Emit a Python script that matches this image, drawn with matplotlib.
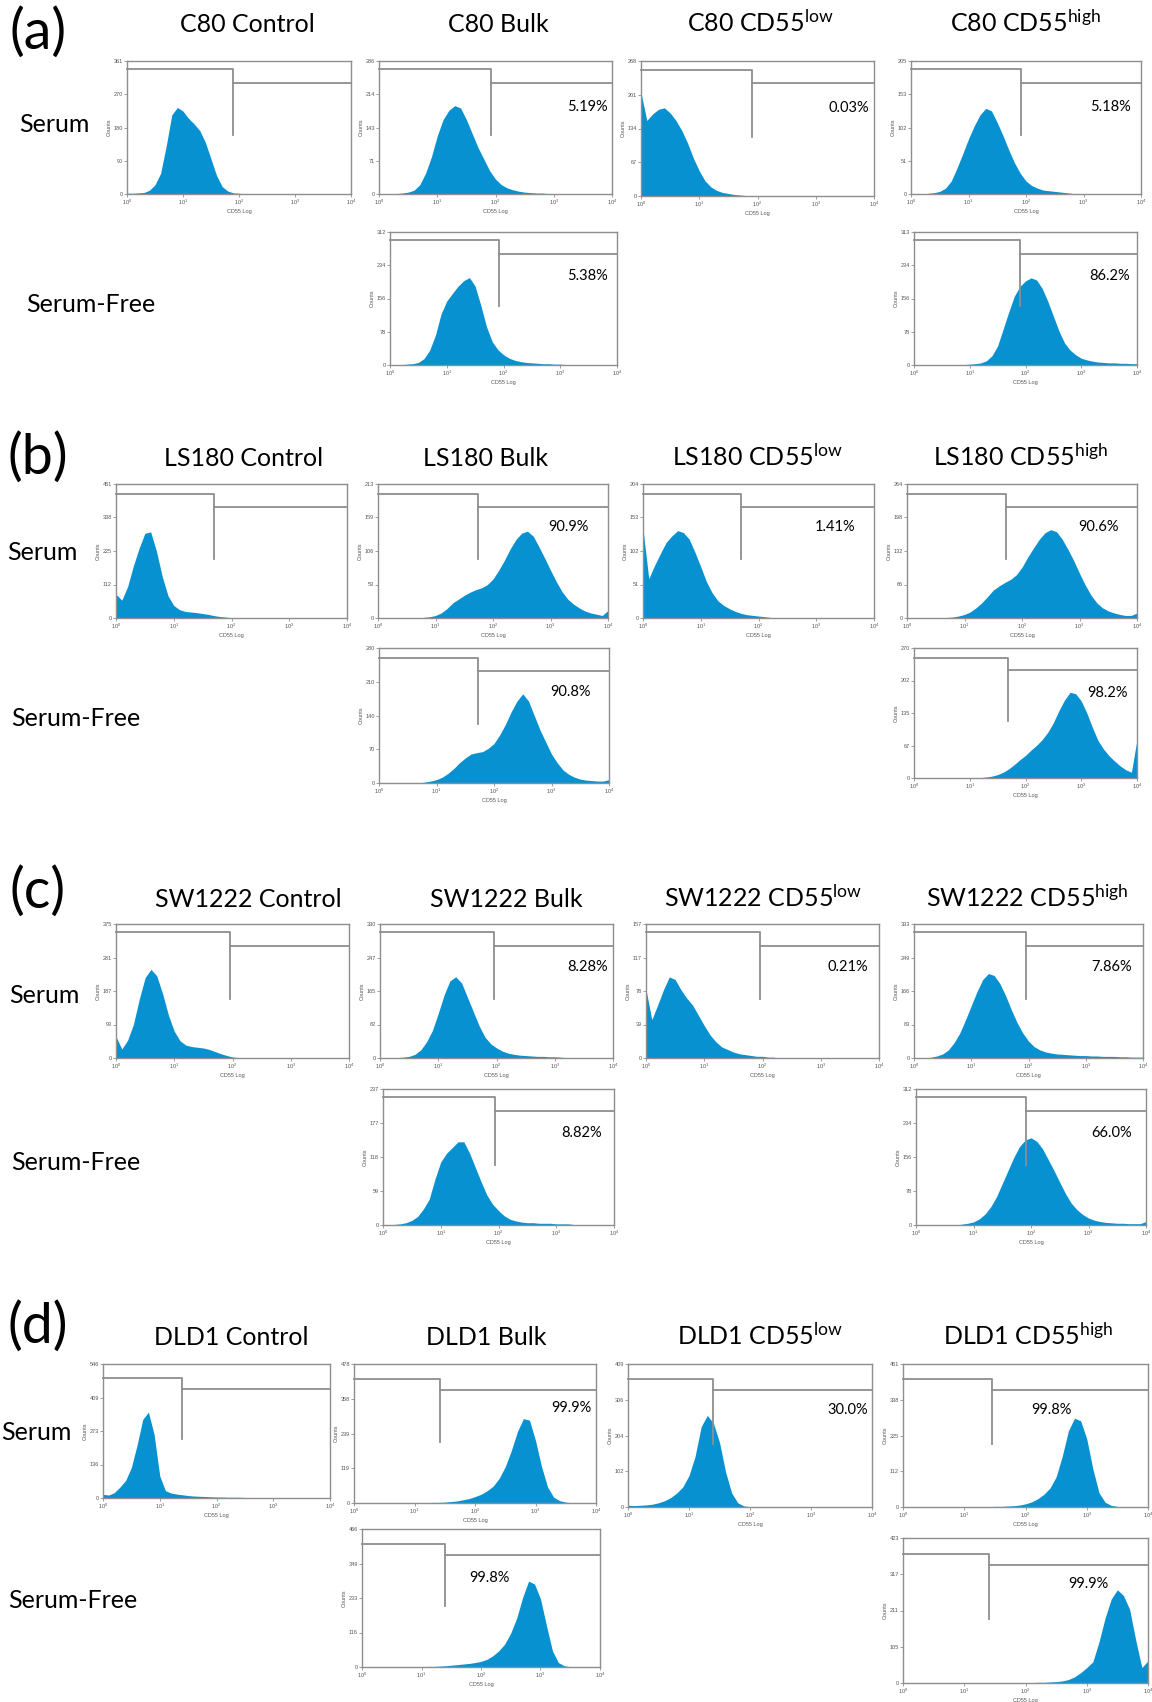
import numpy as np
import matplotlib
matplotlib.use("Agg")
import matplotlib.pyplot as plt
from matplotlib.ticker import NullLocator

W, H = 1152, 1702

plt.rcParams['font.family'] = ['Lato', 'DejaVu Sans']
plt.rcParams['mathtext.default'] = 'regular'

BLUE = '#0791d1'
FRAME = '#8e8e8e'
SMALL_FONT = 'Liberation Sans'

# every histogram is stored as counts per channel, one channel = 0.1 decade,
# first channel at CD55 = 10^0
LOG_STEP = 0.1

# ---- C80 ----
C80_CONTROL = [2, 2, 3, 4, 10, 25, 56, 130, 215, 235, 225, 205, 190, 172, 140, 95, 50, 20, 8, 3, 2, 1, 1]
C80_BULK = [0, 0, 1, 1, 2, 4, 8, 20, 45, 80, 125, 160, 180, 190, 185, 160, 130, 100, 75, 50, 32, 20, 13, 9,
            6, 4, 3, 2, 2, 1, 1]
C80_LOW = [205, 150, 163, 172, 175, 165, 150, 130, 105, 75, 50, 30, 18, 11, 7, 5, 3, 2, 1, 1]
C80_HIGH = [0, 0, 0, 1, 2, 4, 9, 20, 40, 62, 85, 105, 122, 132, 128, 110, 90, 68, 48, 32, 20, 13, 9, 6, 5,
            4, 3, 2, 1]
C80_BULK_SF = [0, 0, 1, 2, 3, 6, 15, 35, 70, 120, 150, 168, 185, 198, 205, 185, 140, 90, 55, 36, 24, 16, 11,
               8, 6, 5, 4, 3, 3, 2, 2, 1]
C80_HIGH_SF = [0, 0, 0, 0, 0, 0, 0, 0, 0, 1, 2, 3, 5, 10, 22, 45, 85, 125, 162, 185, 198, 205, 200, 180,
               150, 115, 80, 52, 35, 24, 16, 12, 9, 7, 6, 5, 5, 4, 4, 3, 3]
C80_YMAX = [361, 286, 268, 205, 312, 313]
C80_GATE = [77, 83, 80, 81, 83, 81]
C80_PCT = [None, '5.19%', '0.03%', '5.18%', '5.38%', '86.2%']

# ---- LS180 ----
LS180_CONTROL = [80, 60, 105, 175, 235, 285, 290, 225, 140, 75, 42, 28, 22, 20, 18, 15, 12, 8, 5, 3, 1]
LS180_BULK = [0, 0, 0, 0, 0, 0, 0, 0, 1, 2, 4, 8, 15, 24, 30, 36, 41, 45, 48, 53, 62, 76, 92, 110, 125,
              135, 138, 130, 113, 95, 76, 58, 42, 30, 22, 16, 11, 8, 6, 4, 12]
LS180_LOW = [135, 60, 80, 98, 115, 125, 133, 130, 120, 100, 78, 55, 38, 26, 19, 14, 10, 7, 5, 4, 3, 2, 1]
LS180_HIGH = [0, 0, 0, 0, 0, 0, 0, 1, 2, 4, 7, 12, 20, 30, 42, 55, 63, 70, 76, 85, 100, 120, 138, 155,
              168, 174, 170, 155, 135, 113, 88, 65, 45, 30, 20, 14, 10, 7, 5, 5, 10]
LS180_BULK_SF = [0, 0, 0, 0, 0, 0, 0, 0, 2, 4, 7, 12, 20, 30, 42, 52, 60, 63, 65, 72, 82, 100, 122, 148,
                 170, 185, 170, 140, 110, 85, 60, 42, 27, 18, 12, 8, 6, 5, 4, 4, 7]
LS180_HIGH_SF = [0, 0, 0, 0, 0, 0, 0, 0, 0, 0, 0, 0, 1, 2, 4, 7, 12, 19, 28, 38, 47, 58, 68, 80, 95, 115,
                 140, 162, 178, 175, 160, 135, 105, 78, 60, 46, 35, 25, 17, 12, 80]
LS180_YMAX = [451, 213, 204, 264, 280, 270]
LS180_GATE = [50, 55, 50, 52, 52, 48]
LS180_PCT = [None, '90.9%', '1.41%', '90.6%', '90.8%', '98.2%']

# ---- SW1222 ----
SW1222_CONTROL = [60, 25, 50, 95, 165, 225, 248, 230, 180, 120, 75, 48, 36, 32, 30, 28, 24, 18, 12, 7, 3, 1]
SW1222_BULK = [0, 0, 0, 1, 2, 4, 9, 20, 40, 68, 110, 155, 190, 200, 185, 150, 115, 80, 52, 35, 25, 17, 12,
               9, 7, 6, 5, 4, 4, 3, 3, 2, 1]
SW1222_LOW = [80, 45, 62, 80, 95, 92, 80, 70, 62, 50, 38, 27, 19, 13, 10, 7, 5, 4, 3, 2, 2, 1, 1]
SW1222_HIGH = [0, 0, 0, 2, 5, 10, 20, 38, 62, 95, 130, 165, 195, 210, 205, 185, 155, 120, 88, 62, 42, 28,
               20, 15, 12, 10, 9, 8, 7, 6, 6, 5, 5, 4, 4, 4, 3, 3, 2, 2, 2]
SW1222_BULK_SF = [0, 0, 1, 2, 4, 8, 15, 28, 45, 80, 110, 125, 135, 145, 145, 125, 100, 75, 52, 36, 25, 16,
                  10, 7, 5, 4, 4, 3, 3, 3, 2, 2, 2, 1]
SW1222_HIGH_SF = [0, 0, 0, 0, 0, 0, 0, 0, 2, 4, 7, 14, 25, 42, 65, 95, 125, 155, 180, 195, 200, 192, 175,
                  150, 125, 98, 72, 50, 35, 24, 16, 11, 8, 6, 5, 4, 4, 3, 3, 3, 8]
SW1222_YMAX = [375, 330, 157, 333, 237, 312]
SW1222_GATE = [91, 91, 91, 91, 86, 83]
SW1222_PCT = [None, '8.28%', '0.21%', '7.86%', '8.82%', '66.0%']

# ---- DLD1 ----
DLD1_CONTROL = [15, 12, 22, 45, 72, 125, 215, 320, 350, 260, 90, 30, 20, 16, 13, 10, 8, 7, 6, 5, 4, 4, 3, 3,
                3, 2, 1]
DLD1_BULK = [0, 0, 0, 0, 0, 0, 0, 0, 0, 0, 1, 1, 1, 2, 2, 3, 5, 7, 11, 15, 22, 30, 42, 58, 85, 125, 180,
             245, 290, 285, 215, 125, 55, 20, 8, 3, 1]
DLD1_LOW = [5, 4, 5, 6, 8, 12, 18, 27, 40, 58, 90, 145, 230, 262, 240, 185, 100, 40, 12, 3, 1]
DLD1_HIGH = [0, 0, 0, 0, 0, 0, 0, 0, 0, 0, 0, 0, 0, 1, 1, 2, 2, 3, 4, 6, 10, 16, 26, 40, 60, 95, 160, 240,
             280, 272, 215, 120, 45, 15, 5, 2]
DLD1_BULK_SF = [0, 0, 0, 0, 0, 0, 0, 0, 0, 0, 1, 2, 2, 3, 4, 6, 8, 10, 12, 15, 19, 26, 38, 55, 78, 115, 165,
                235, 290, 280, 230, 140, 55, 15, 4, 1]
DLD1_HIGH_SF = [0, 0, 0, 0, 0, 0, 0, 0, 0, 0, 0, 0, 0, 0, 0, 0, 0, 0, 1, 1, 1, 1, 2, 2, 3, 4, 6, 10, 18,
                30, 45, 62, 120, 190, 245, 272, 255, 215, 125, 45, 65]
DLD1_YMAX = [546, 478, 409, 451, 466, 423]
DLD1_GATE = [25, 26, 25, 28, 25, 25]
DLD1_PCT = [None, '99.9%', '30.0%', '99.8%', '99.8%', '99.9%']

LINES = ['C80', 'LS180', 'SW1222', 'DLD1']
TAGS = ['(a)', '(b)', '(c)', '(d)']
HISTS = [
    [C80_CONTROL, C80_BULK, C80_LOW, C80_HIGH, C80_BULK_SF, C80_HIGH_SF],
    [LS180_CONTROL, LS180_BULK, LS180_LOW, LS180_HIGH, LS180_BULK_SF, LS180_HIGH_SF],
    [SW1222_CONTROL, SW1222_BULK, SW1222_LOW, SW1222_HIGH, SW1222_BULK_SF, SW1222_HIGH_SF],
    [DLD1_CONTROL, DLD1_BULK, DLD1_LOW, DLD1_HIGH, DLD1_BULK_SF, DLD1_HIGH_SF],
]
YMAXS = [C80_YMAX, LS180_YMAX, SW1222_YMAX, DLD1_YMAX]
GATES = [C80_GATE, LS180_GATE, SW1222_GATE, DLD1_GATE]
PCTS = [C80_PCT, LS180_PCT, SW1222_PCT, DLD1_PCT]

# ---- layout (pixels): left, right, top, bottom of each plot frame ----
BOXES = [
    [(127, 351, 61, 194), (379, 612, 61, 194), (641, 874, 61, 196), (911, 1141, 61, 194),
     (390, 617, 232, 365), (914, 1137, 232, 365)],
    [(116, 347, 484, 618), (378, 608, 484, 618), (643, 874, 484, 618), (907, 1137, 484, 618),
     (379, 609, 648, 783), (914, 1137, 648, 778)],
    [(116, 349, 924, 1058), (380, 613, 924, 1058), (646, 879, 924, 1058), (914, 1143, 924, 1058),
     (383, 614, 1089, 1225), (916, 1146, 1089, 1225)],
    [(103, 330, 1364, 1498), (354, 596, 1364, 1503), (628, 872, 1364, 1507), (903, 1148, 1364, 1507),
     (362, 600, 1529, 1667), (903, 1148, 1538, 1683)],
]
TAG_Y = [33, 458, 892, 1327]
TITLE_BASE = [32, 466, 907, 1345]
TITLE_X = [[247, 498, 760, 1025], [244, 486, 757, 1020], [248, 506, 763, 1027], [231, 486, 760, 1028]]
ROW_Y = [(125, 305), (553, 718), (995, 1162), (1433, 1600)]
ROW_RIGHT = [(90, 155), (78, 140), (80, 140), (72, 137)]
MARKS = [(0.937, 0.836), (0.925, 0.83), (0.94, 0.835), (0.893, 0.815)]
PCT_X = [[None, 0.983, 0.979, 0.957, 0.96, 0.969],
         [None, 0.917, 0.918, 0.92, 0.92, 0.96],
         [None, 0.979, 0.953, 0.952, 0.948, 0.94],
         [None, 0.983, 0.984, 0.69, 0.62, 0.84]]
PCT_Y = [[None, 0.655, 0.655, 0.655, 0.667, 0.667],
         [None, 0.68, 0.68, 0.68, 0.676, 0.655],
         [None, 0.68, 0.68, 0.68, 0.68, 0.68],
         [None, 0.68, 0.676, 0.68, 0.643, 0.68]]


def fy(y):
    return 1 - y / H


def histogram(fig, box, counts, ymax, gate, marks):
    left, right, top, bottom = box
    ax = fig.add_axes([left / W, fy(bottom), (right - left) / W, (bottom - top) / H])
    chan = 10 ** (np.arange(len(counts)) * LOG_STEP)
    ax.fill_between(chan, counts, color=BLUE, lw=0)
    ax.set_xscale('log')
    ax.set_xlim(1, 1e4)
    ax.set_ylim(0, ymax)

    ax.set_xticks([1, 10, 100, 1000, 10000])
    ax.set_xticklabels(['$10^{%d}$' % k for k in range(5)])
    ax.xaxis.set_minor_locator(NullLocator())
    yt = [ymax * k / 4 for k in range(5)]
    ax.set_yticks(yt)
    ax.set_yticklabels([str(int(v)) for v in yt])
    ax.tick_params(length=2, width=0.6, color=FRAME, labelsize=4, labelcolor='#555555', pad=1)
    for lbl in ax.get_xticklabels() + ax.get_yticklabels():
        lbl.set_family(SMALL_FONT)
    ax.set_xlabel('CD55 Log', fontsize=4, family=SMALL_FONT, color='#555555', labelpad=1)
    ax.set_ylabel('Counts', fontsize=4, family=SMALL_FONT, color='#555555', labelpad=1)
    for s in ax.spines.values():
        s.set_color(FRAME)
        s.set_linewidth(1.0)

    # marker bars: M1 left of the gate, M2 right of it
    m1, m2 = marks
    tr = ax.get_xaxis_transform()
    ax.plot([1, gate, gate], [m1, m1, 0.44], transform=tr, color=FRAME, lw=1.3, clip_on=False)
    ax.plot([gate, 1e4], [m2, m2], transform=tr, color=FRAME, lw=1.3, clip_on=False)
    return ax


fig = plt.figure(figsize=(W / 100, H / 100), dpi=100)
fig.patch.set_facecolor('white')

for p, line in enumerate(LINES):
    fig.text(38 / W, fy(TAG_Y[p]), TAGS[p], fontsize=40, ha='center', va='center')
    titles = [line + ' Control', line + ' Bulk',
              line + ' CD55$^{\\mathregular{low}}$', line + ' CD55$^{\\mathregular{high}}$']
    for c, t in enumerate(titles):
        fig.text(TITLE_X[p][c] / W, fy(TITLE_BASE[p]), t, fontsize=18, ha='center', va='baseline')
    fig.text(ROW_RIGHT[p][0] / W, fy(ROW_Y[p][0]), 'Serum', fontsize=18, ha='right', va='center')
    fig.text(ROW_RIGHT[p][1] / W, fy(ROW_Y[p][1]), 'Serum-Free', fontsize=18, ha='right', va='center')

    for k in range(6):
        ax = histogram(fig, BOXES[p][k], HISTS[p][k], YMAXS[p][k], GATES[p][k], MARKS[p])
        if PCTS[p][k]:
            ax.text(PCT_X[p][k], PCT_Y[p][k], PCTS[p][k], transform=ax.transAxes,
                    ha='right', va='center', fontsize=10.5)

fig.savefig('out.png', dpi=100, facecolor='white')
